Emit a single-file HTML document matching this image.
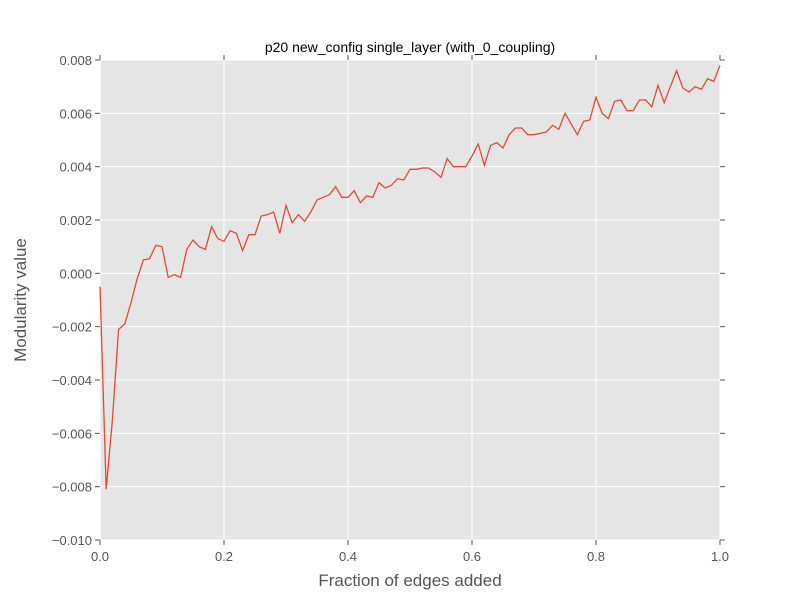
<!DOCTYPE html>
<html><head><meta charset="utf-8"><style>
body{margin:0;background:#fff;}
svg{display:block;font-family:"Liberation Sans",sans-serif;}
</style></head><body>
<svg id="chart" width="800" height="600">
<rect x="0" y="0" width="800" height="600" fill="#fff"/>
<rect x="100" y="60" width="620" height="480" fill="#e5e5e5"/>
<g id="grid"></g>
<g id="axes"></g>
<g id="series"></g>
<text x="410" y="52" text-anchor="middle" font-size="14" fill="#000">p20 new_config single_layer (with_0_coupling)</text>
<text x="410" y="586" text-anchor="middle" font-size="17" fill="#555">Fraction of edges added</text>
<text x="26" y="300" text-anchor="middle" font-size="17" fill="#555" transform="rotate(-90 26 300)">Modularity value</text>
</svg>
<script>
const xTicks=[0,0.2,0.4,0.6,0.8,1.0];
const xTickLabels=["0.0","0.2","0.4","0.6","0.8","1.0"];
const yTicks=[-0.010,-0.008,-0.006,-0.004,-0.002,0,0.002,0.004,0.006,0.008];
const yTickLabels=["\u22120.010","\u22120.008","\u22120.006","\u22120.004","\u22120.002","0.000","0.002","0.004","0.006","0.008"];
const modularity=[-0.0005,-0.0081,-0.0055,-0.0021,-0.0019,-0.0011,-0.0002,0.0005,0.00055,0.00105,0.0010,-0.00015,-0.00005,-0.00015,0.0009,0.00125,0.0010,0.0009,0.00175,0.0013,0.0012,0.0016,0.0015,0.00085,0.00145,0.00145,0.00215,0.0022,0.0023,0.0015,0.00255,0.0019,0.0022,0.00195,0.0023,0.00275,0.00285,0.00295,0.00325,0.00285,0.00285,0.0031,0.00265,0.0029,0.00285,0.0034,0.0032,0.0033,0.00355,0.0035,0.0039,0.0039,0.00395,0.00395,0.0038,0.0036,0.0043,0.0040,0.0040,0.0040,0.0044,0.00485,0.00405,0.0048,0.0049,0.0047,0.0052,0.00545,0.00545,0.0052,0.0052,0.00525,0.0053,0.00555,0.0054,0.0060,0.0056,0.0052,0.0057,0.00575,0.0066,0.0060,0.0058,0.00645,0.0065,0.0061,0.0061,0.0065,0.0065,0.00625,0.00705,0.0064,0.0070,0.0076,0.00695,0.0068,0.0070,0.0069,0.0073,0.0072,0.0078];
const NS="http://www.w3.org/2000/svg";
const X0=100,X1=720,Y0=540,Y1=60,XMIN=0,XMAX=1,YMIN=-0.010,YMAX=0.008;
function sx(v){return X0+(v-XMIN)/(XMAX-XMIN)*(X1-X0);}
function sy(v){return Y0-(v-YMIN)/(YMAX-YMIN)*(Y0-Y1);}
function mk(t,a,p){const e=document.createElementNS(NS,t);for(const k in a)e.setAttribute(k,a[k]);p.appendChild(e);return e;}
const grid=document.getElementById('grid'),axes=document.getElementById('axes'),series=document.getElementById('series');
xTicks.forEach((v,i)=>{
 const x=sx(v);
 const g=mk('line',{x1:x,x2:x,y1:Y1,y2:Y0,stroke:'#fff','stroke-width':1},grid);
 
 
 const t1=mk('line',{x1:x,x2:x,y1:Y0,y2:Y0+5,stroke:'#555'},axes);
 
 
 const t2=mk('line',{x1:x,x2:x,y1:Y1,y2:Y1-5,stroke:'#555'},axes);
 
 
 const l=mk('text',{x:x,y:Y0+21,'text-anchor':'middle','font-size':13,fill:'#555'},axes);
 l.textContent=xTickLabels[i];
 
 
});
yTicks.forEach((v,i)=>{
 const y=sy(v);
 const g=mk('line',{x1:X0,x2:X1,y1:y,y2:y,stroke:'#fff','stroke-width':1},grid);
 
 
 const t1=mk('line',{x1:X0,x2:X0-5,y1:y,y2:y,stroke:'#555'},axes);
 
 
 const t2=mk('line',{x1:X1,x2:X1+5,y1:y,y2:y,stroke:'#555'},axes);
 
 
 const l=mk('text',{x:X0-8,y:y+5,'text-anchor':'end','font-size':13,fill:'#555'},axes);
 l.textContent=yTickLabels[i];
 
 
});
const pts=modularity.map((v,i)=>sx(i/(modularity.length-1)).toFixed(2)+','+sy(v).toFixed(2)).join(' ');
const line=mk('polyline',{points:pts,fill:'none',stroke:'#e24a33','stroke-width':1.3},series);


</script>
</body></html>
